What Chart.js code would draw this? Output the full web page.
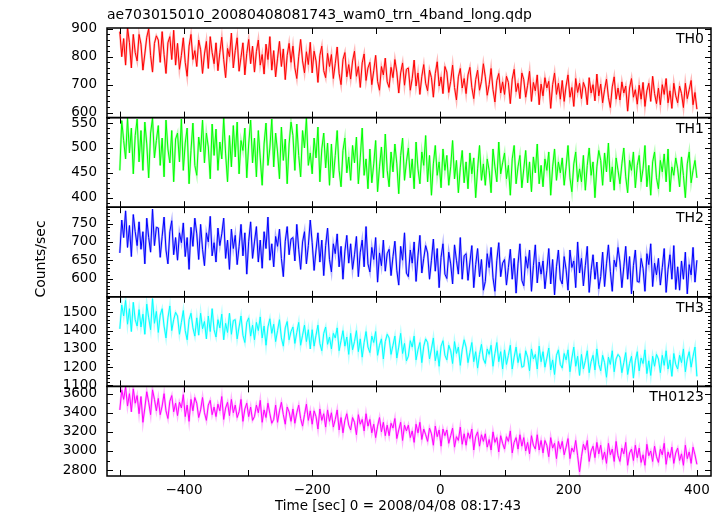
<!DOCTYPE html>
<html>
<head>
<meta charset="utf-8">
<script src="https://cdn.jsdelivr.net/npm/chart.js@4.4.1/dist/chart.umd.min.js"></script>
<style>
html,body{margin:0;padding:0;background:#fff;}
#wrap{width:723px;height:516px;}
</style>
</head>
<body>
<div id="wrap"><canvas id="c" width="723" height="516"></canvas></div>
<script>
// ---- data ----
const chartTitle = "ae703015010_20080408081743_wam0_trn_4band_long.qdp";
const xTitle = "Time [sec] 0 = 2008/04/08 08:17:43";
const yTitle = "Counts/sec";

const times = [
-500,-497,-494,-491,-488,-485,-482,-479,-476,-473,
-470,-467,-464,-461,-458,-455,-452,-449,-446,-443,
-440,-437,-434,-431,-428,-425,-422,-419,-416,-413,
-410,-407,-404,-401,-398,-395,-392,-389,-386,-383,
-380,-377,-374,-371,-368,-365,-362,-359,-356,-353,
-350,-347,-344,-341,-338,-335,-332,-329,-326,-323,
-320,-317,-314,-311,-308,-305,-302,-299,-296,-293,
-290,-287,-284,-281,-278,-275,-272,-269,-266,-263,
-260,-257,-254,-251,-248,-245,-242,-239,-236,-233,
-230,-227,-224,-221,-218,-215,-212,-209,-206,-203,
-200,-197,-194,-191,-188,-185,-182,-179,-176,-173,
-170,-167,-164,-161,-158,-155,-152,-149,-146,-143,
-140,-137,-134,-131,-128,-125,-122,-119,-116,-113,
-110,-107,-104,-101,-98,-95,-92,-89,-86,-83,
-80,-77,-74,-71,-68,-65,-62,-59,-56,-53,
-50,-47,-44,-41,-38,-35,-32,-29,-26,-23,
-20,-17,-14,-11,-8,-5,-2,1,4,7,
10,13,16,19,22,25,28,31,34,37,
40,43,46,49,52,55,58,61,64,67,
70,73,76,79,82,85,88,91,94,97,
100,103,106,109,112,115,118,121,124,127,
130,133,136,139,142,145,148,151,154,157,
160,163,166,169,172,175,178,181,184,187,
190,193,196,199,202,205,208,211,214,217,
220,223,226,229,232,235,238,241,244,247,
250,253,256,259,262,265,268,271,274,277,
280,283,286,289,292,295,298,301,304,307,
310,313,316,319,322,325,328,331,334,337,
340,343,346,349,352,355,358,361,364,367,
370,373,376,379,382,385,388,391,394,397,
400];

const th0 = [
890,800,865,770,905,850,760,880,815,785,
880,845,752,810,870,900,805,745,848,875,
860,780,890,808,740,850,872,790,895,770,
848,755,805,868,780,730,838,880,790,822,
765,860,825,740,810,855,758,872,815,775,
850,750,815,870,790,725,830,800,885,760,
822,868,748,798,850,735,812,862,775,838,
745,818,860,770,808,738,845,790,872,752,
822,728,795,855,765,828,718,805,848,780,
838,760,722,800,862,785,742,818,772,852,
742,820,785,708,805,838,750,725,812,765,
808,722,775,835,740,700,790,815,728,772,
720,785,820,730,765,690,778,810,715,760,
780,700,750,805,712,680,765,735,795,710,
690,762,725,790,745,670,742,778,698,755,
760,680,722,788,695,742,665,730,772,705,
678,752,725,655,740,782,695,728,668,765,
745,672,712,770,690,645,728,758,688,722,
668,735,762,690,650,718,752,680,712,775,
728,662,700,758,682,638,715,740,670,710,
665,730,708,632,720,755,675,705,650,742,
718,655,698,748,640,708,678,735,628,702,
660,725,688,712,615,700,742,665,705,648,
715,640,695,735,655,690,622,722,672,705,
650,708,688,628,725,670,700,642,738,660,
702,635,682,720,655,618,692,728,648,688,
645,710,670,695,605,688,722,655,682,630,
698,648,708,622,678,705,640,730,668,632,
688,628,700,665,722,635,678,615,705,660,
635,695,668,618,705,650,682,715,628,672,
612];

const th1 = [
455,555,515,478,560,490,540,448,525,558,
472,535,455,552,508,440,530,560,480,515,
545,465,520,442,556,498,470,535,432,518,
530,472,558,455,510,540,428,495,550,465,
445,522,492,556,470,530,502,438,548,485,
538,455,512,478,560,488,432,525,462,545,
482,552,448,515,495,540,440,508,556,470,
520,442,535,480,425,508,550,465,500,558,
462,530,492,438,542,475,518,428,508,552,
525,455,548,485,442,535,500,560,465,490,
448,520,480,542,432,498,530,460,510,425,
508,440,485,535,455,422,495,520,450,482,
435,505,470,522,428,480,540,445,478,418,
498,430,468,515,412,462,502,440,528,455,
422,492,452,508,468,408,485,520,435,472,
500,440,478,418,512,458,428,492,465,525,
432,485,405,468,505,445,472,420,498,455,
485,425,462,515,438,475,410,460,495,430,
472,418,490,448,480,400,458,505,435,468,
425,478,455,410,498,462,432,512,448,470,
490,438,465,405,478,505,428,462,485,420,
458,495,430,472,412,482,450,508,428,465,
422,478,455,492,405,462,498,435,472,450,
480,425,462,505,440,412,468,492,432,458,
432,485,415,465,500,445,472,400,462,495,
475,425,490,452,510,432,462,415,480,455,
428,468,500,442,410,475,455,492,420,465,
485,432,458,505,422,465,405,472,492,440,
418,475,452,488,432,498,412,462,445,480,
458,422,482,445,400,468,492,430,455,475,
440];

const th2 = [
670,760,712,785,685,745,660,775,728,690,
755,680,728,640,765,712,672,790,690,740,
738,658,715,768,678,640,728,758,665,712,
650,725,698,752,660,712,625,740,688,765,
722,652,748,680,635,725,700,770,662,698,
645,738,690,722,765,655,705,625,735,682,
718,638,688,748,662,725,612,702,755,655,
700,742,645,705,628,728,682,768,650,695,
632,715,688,735,655,605,702,742,665,708,
712,648,748,680,625,700,728,640,690,760,
698,622,678,725,645,705,608,690,738,652,
618,695,668,722,632,688,598,675,718,642,
695,625,665,715,605,672,705,632,742,640,
618,685,652,712,590,670,635,705,620,668,
680,608,660,702,622,582,688,650,725,615,
605,678,642,700,592,662,718,615,655,690,
670,598,650,708,620,682,575,658,695,612,
600,672,640,585,692,650,612,712,598,662,
668,595,645,690,575,638,682,605,652,568,
592,668,630,685,602,565,650,698,605,642,
652,582,630,680,598,655,560,640,695,595,
580,660,628,678,565,635,692,588,645,612,
648,572,622,682,585,652,555,632,678,598,
585,660,625,568,678,630,648,575,700,615,
655,580,635,688,562,622,665,598,645,572,
605,672,578,640,692,620,565,650,632,685,
645,575,632,688,598,660,558,635,678,592,
590,655,628,565,668,638,695,578,642,610,
655,582,630,682,562,625,665,598,690,570,
632,568,648,598,672,558,638,610,685,590,
650];

const th3 = [
1410,1540,1480,1565,1435,1520,1395,1555,1460,1425,
1515,1420,1490,1380,1545,1470,1405,1575,1440,1505,
1390,1485,1520,1425,1360,1470,1535,1400,1460,1500,
1480,1380,1445,1510,1400,1350,1460,1495,1415,1370,
1470,1375,1495,1410,1450,1355,1480,1395,1520,1405,
1365,1460,1415,1490,1350,1440,1390,1495,1380,1455,
1460,1355,1420,1480,1375,1335,1445,1470,1370,1430,
1350,1445,1400,1475,1360,1425,1320,1420,1465,1385,
1435,1340,1400,1460,1360,1315,1415,1450,1350,1395,
1420,1330,1390,1445,1320,1375,1430,1340,1405,1300,
1405,1315,1375,1430,1330,1290,1385,1420,1325,1365,
1300,1385,1360,1415,1290,1345,1400,1315,1365,1270,
1385,1295,1340,1400,1285,1355,1255,1335,1395,1310,
1280,1370,1335,1395,1265,1320,1355,1245,1340,1380,
1360,1270,1320,1370,1250,1310,1385,1275,1330,1235,
1260,1345,1310,1370,1240,1295,1335,1225,1315,1355,
1335,1245,1300,1360,1235,1290,1205,1315,1345,1265,
1240,1320,1290,1220,1340,1275,1310,1210,1295,1350,
1310,1225,1280,1335,1230,1285,1195,1270,1325,1245,
1220,1300,1270,1320,1205,1275,1335,1230,1285,1190,
1295,1215,1265,1320,1190,1255,1310,1225,1275,1200,
1205,1290,1255,1180,1300,1245,1270,1190,1315,1230,
1285,1200,1250,1305,1185,1240,1160,1265,1295,1215,
1195,1275,1240,1295,1175,1250,1310,1205,1260,1155,
1270,1190,1235,1290,1170,1230,1265,1185,1300,1215,
1180,1265,1225,1145,1255,1215,1290,1175,1245,1270,
1255,1170,1225,1280,1160,1220,1260,1140,1235,1285,
1180,1250,1220,1295,1165,1235,1155,1260,1205,1270,
1245,1170,1265,1210,1290,1190,1240,1150,1275,1215,
1190,1265,1225,1300,1175,1245,1285,1200,1260,1310,
1150];

const th0123 = [
3430,3640,3540,3670,3470,3600,3410,3650,3500,3580,
3390,3570,3300,3450,3620,3510,3380,3640,3540,3420,
3550,3380,3470,3600,3420,3340,3520,3580,3410,3500,
3370,3510,3450,3590,3360,3480,3310,3540,3420,3560,
3500,3350,3430,3560,3400,3320,3480,3530,3380,3460,
3360,3490,3420,3570,3330,3450,3510,3370,3540,3400,
3480,3350,3410,3540,3310,3440,3500,3360,3460,3320,
3360,3480,3400,3530,3300,3430,3350,3500,3390,3290,
3330,3480,3300,3420,3510,3380,3280,3460,3410,3310,
3440,3290,3400,3480,3340,3260,3380,3490,3320,3420,
3280,3420,3360,3230,3440,3320,3390,3250,3430,3310,
3400,3250,3330,3430,3220,3350,3190,3320,3390,3270,
3220,3350,3300,3170,3380,3280,3330,3210,3390,3260,
3330,3190,3280,3140,3260,3350,3200,3300,3160,3270,
3160,3290,3240,3340,3130,3220,3300,3110,3270,3210,
3270,3140,3210,3090,3280,3190,3300,3120,3230,3170,
3100,3240,3180,3060,3260,3150,3220,3050,3230,3160,
3220,3080,3160,3240,3040,3150,3110,3250,3070,3180,
3060,3190,3130,3230,3010,3150,3200,3050,3170,3100,
3180,3040,3120,3010,3200,3090,3140,2990,3160,3080,
3020,3150,3100,3210,2980,3090,3140,3020,3170,3050,
3140,3000,3090,2970,3160,3060,3020,3170,3010,3110,
2980,3110,3060,2940,3140,3030,3080,2920,3100,3020,
3100,2960,3040,3130,2920,3030,2990,3110,2950,2780,
2940,3070,3010,3110,2890,3000,3050,2930,3090,2970,
3060,2910,2990,2870,3080,2960,3020,2890,3100,2950,
2890,3030,2970,3090,2850,2980,3020,2900,3060,2930,
3030,2880,2960,2850,3070,2950,3000,2890,3050,2940,
2880,3020,2960,3080,2860,2990,2930,3040,2870,2980,
3030,2900,2970,2850,3060,2920,2990,2870,3040,2960,
2860];

// tick labels
const xTickLabels = [-400,-200,0,200,400];
const th0Ticks = [600,700,800,900];
const th1Ticks = [400,450,500,550];
const th2Ticks = [600,650,700,750];
const th3Ticks = [1100,1200,1300,1400,1500];
const th0123Ticks = [2800,3000,3200,3400,3600];

// ---- panel definitions (style / ranges) ----
const panels = [
  {id:'y0', label:'TH0',    data:th0,    ticks:th0Ticks,    min:582,  max:903,  minor:20,  color:'#ff0000', soft:'rgba(255,70,70,0.4)'},
  {id:'y1', label:'TH1',    data:th1,    ticks:th1Ticks,    min:381,  max:561,  minor:10,  color:'#00ff00', soft:'rgba(70,255,70,0.4)'},
  {id:'y2', label:'TH2',    data:th2,    ticks:th2Ticks,    min:550,  max:795,  minor:10,  color:'#0000ff', soft:'rgba(70,70,255,0.4)'},
  {id:'y3', label:'TH3',    data:th3,    ticks:th3Ticks,    min:1095, max:1585, minor:20,  color:'#00ffff', soft:'rgba(70,255,255,0.4)'},
  {id:'y4', label:'TH0123', data:th0123, ticks:th0123Ticks, min:2738, max:3676, minor:100, color:'#ff00ff', soft:'rgba(255,70,255,0.4)'}
];

const FONT = "'DejaVu Sans', sans-serif";

const datasets = [];
panels.forEach(p => {
  const n = Math.min(times.length, p.data.length);
  const pts = [];
  for (let i = 0; i < n; i++) pts.push({x: times[i], y: p.data[i]});
  datasets.push({label: p.label + ' err', data: pts, xAxisID:'x', yAxisID:p.id,
    borderColor: p.soft, borderWidth: 2.2, pointRadius: 0, tension: 0, order: 2});
  datasets.push({label: p.label, data: pts, xAxisID:'x', yAxisID:p.id,
    borderColor: p.color, borderWidth: 1, pointRadius: 0, tension: 0, order: 1});
});

const scales = {
  x: {
    type:'linear', position:'bottom', min:-520, max:422,
    afterBuildTicks: s => { s.ticks = xTickLabels.map(v => ({value:v})); },
    afterFit: s => { s.height = 40; },
    grid:{display:false, drawTicks:false}, border:{display:false},
    ticks:{padding:6, color:'#000', font:{family:FONT, size:13.5}, maxRotation:0, autoSkip:false,
      callback: v => String(v).replace('-', '\u2212')}
  }
};
panels.forEach((p, k) => {
  scales[p.id] = {
    type:'linear', position:'left', stack:'panels', stackWeight:1, weight: 10 - k,
    min:p.min, max:p.max,
    afterBuildTicks: s => { s.ticks = p.ticks.map(v => ({value:v})); },
    afterFit: s => { s.width = 107; },
    grid:{display:false, drawTicks:false}, border:{display:false},
    ticks:{padding:10, color:'#000', font:{family:FONT, size:13.5}, autoSkip:false,
      callback: v => String(v)}
  };
});

const panelClip = {
  id:'panelClip',
  beforeDatasetDraw(chart, args) {
    const s = chart.scales[args.meta.yAxisID];
    const ca = chart.chartArea;
    const ctx = chart.ctx;
    ctx.save();
    ctx.beginPath();
    ctx.rect(ca.left, s.top, ca.right - ca.left, s.bottom - s.top);
    ctx.clip();
  },
  afterDatasetDraw(chart) { chart.ctx.restore(); }
};

const decor = {
  id:'decor',
  afterDraw(chart) {
    const ctx = chart.ctx, ca = chart.chartArea, xs = chart.scales.x;
    ctx.save();
    ctx.strokeStyle = '#000';
    const seg = (x1,y1,x2,y2) => { ctx.beginPath(); ctx.moveTo(x1,y1); ctx.lineTo(x2,y2); ctx.stroke(); };
    panels.forEach(p => {
      const s = chart.scales[p.id];
      ctx.lineWidth = 1;
      const start = Math.ceil(s.min / p.minor) * p.minor;
      for (let v = start; v <= s.max; v += p.minor) {
        const y = Math.round(s.getPixelForValue(v)) + 0.5;
        const L = p.ticks.includes(v) ? 6 : 3;
        seg(ca.left, y, ca.left + L, y);
        seg(ca.right, y, ca.right - L, y);
      }
      for (let v = -500; v <= 400; v += 100) {
        const x = Math.round(xs.getPixelForValue(v)) + 0.5;
        seg(x, s.top, x, s.top + 6);
        seg(x, s.bottom, x, s.bottom - 6);
      }
      ctx.lineWidth = 1.5;
      ctx.strokeRect(ca.left, s.top, ca.right - ca.left, s.bottom - s.top);
      ctx.fillStyle = '#000';
      ctx.font = '14px ' + FONT;
      ctx.textAlign = 'right';
      ctx.textBaseline = 'alphabetic';
      ctx.fillText(p.label, ca.right - 7, s.top + 15);
    });
    ctx.fillStyle = '#000';
    ctx.font = '14px ' + FONT;
    ctx.textAlign = 'left';
    ctx.textBaseline = 'alphabetic';
    ctx.fillText(chartTitle, ca.left, 19);
    ctx.textAlign = 'center';
    ctx.textBaseline = 'middle';
    ctx.font = '13.5px ' + FONT;
    ctx.fillText(xTitle, 398, 506);
    ctx.save();
    ctx.translate(41, 259);
    ctx.rotate(-Math.PI / 2);
    ctx.font = '14px ' + FONT;
    ctx.fillText(yTitle, 0, 0);
    ctx.restore();
    ctx.restore();
  }
};

new Chart(document.getElementById('c'), {
  type:'line',
  data:{datasets},
  options:{
    responsive:false, animation:false, devicePixelRatio:1,
    layout:{padding:{left:0, right:12, top:28, bottom:0}},
    plugins:{legend:{display:false}, title:{display:false}, tooltip:{enabled:false}},
    scales
  },
  plugins:[panelClip, decor]
});
</script>
</body>
</html>
